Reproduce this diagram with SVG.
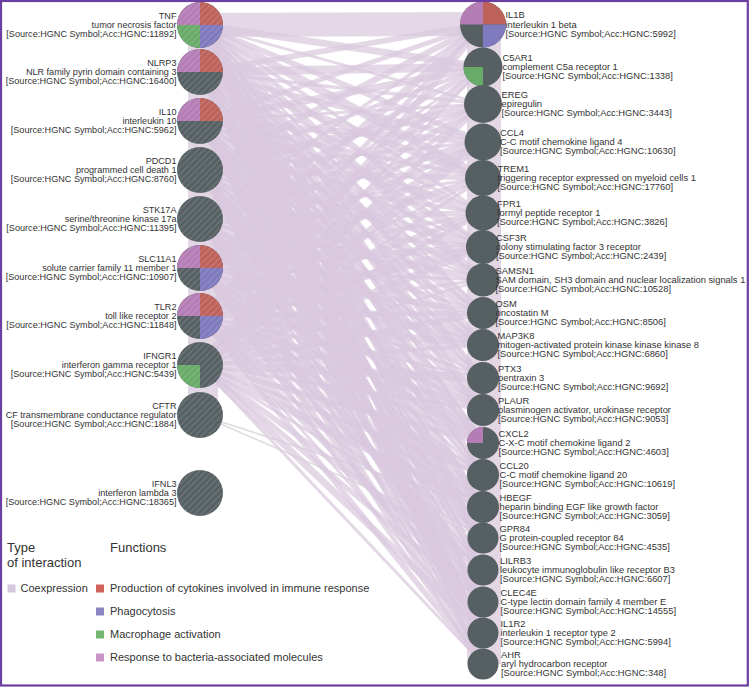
<svg xmlns="http://www.w3.org/2000/svg" width="749" height="688" viewBox="0 0 749 688">
<defs>
<pattern id="hatch" patternUnits="userSpaceOnUse" width="4.5" height="4.5" patternTransform="rotate(45)"><line x1="2.25" y1="0" x2="2.25" y2="4.5" stroke="#ffffff" stroke-opacity="0.14" stroke-width="1.3"/></pattern>
</defs>
<style>
text{font-family:"Liberation Sans",Arial,sans-serif;fill:#333333}
.l text{font-size:9.1px;text-anchor:end}
.r text{font-size:9.35px}
.e line{stroke:#d9c9de;stroke-opacity:0.72;fill:none}
.band{stroke:#d9c9de;stroke-opacity:0.75}
.faint{stroke:#dcd8dc;stroke-opacity:0.9}
.g{fill:#566063}
.pk{fill:#b47db5}
.rd{fill:#bd625b}
.bl{fill:#7f79bd}
.gr{fill:#68ab68}
.h{fill:url(#hatch)}
.leg{font-size:11px}
.hd{font-size:13px}
</style>
<rect x="0" y="0" width="749" height="688" fill="#ffffff"/>
<g id="connectors">
<line class="band" x1="203" y1="25" x2="203" y2="415" stroke-width="30"/>
<line class="band" x1="484" y1="24" x2="484" y2="664" stroke-width="34"/>
<line class="faint" x1="200" y1="415" x2="483" y2="507" stroke-width="1.6"/>
<line class="faint" x1="200" y1="415" x2="483" y2="538" stroke-width="1.6"/>
<g class="e">
<line x1="200" y1="25" x2="483" y2="24" stroke-width="24"/>
<line x1="200" y1="25" x2="483" y2="67" stroke-width="7"/>
<line x1="200" y1="25" x2="483" y2="104" stroke-width="2.8"/>
<line x1="200" y1="25" x2="483" y2="142" stroke-width="5.6"/>
<line x1="200" y1="25" x2="483" y2="178" stroke-width="8.4"/>
<line x1="200" y1="25" x2="483" y2="213" stroke-width="3.5"/>
<line x1="200" y1="25" x2="483" y2="247" stroke-width="4.9"/>
<line x1="200" y1="25" x2="483" y2="280" stroke-width="7"/>
<line x1="200" y1="25" x2="483" y2="313" stroke-width="2.8"/>
<line x1="200" y1="25" x2="483" y2="345" stroke-width="6.3"/>
<line x1="200" y1="25" x2="483" y2="378" stroke-width="4.2"/>
<line x1="200" y1="25" x2="483" y2="410" stroke-width="8.4"/>
<line x1="200" y1="25" x2="483" y2="443" stroke-width="3.5"/>
<line x1="200" y1="25" x2="483" y2="475" stroke-width="5.6"/>
<line x1="200" y1="25" x2="483" y2="507" stroke-width="4.2"/>
<line x1="200" y1="25" x2="483" y2="538" stroke-width="7.7"/>
<line x1="200" y1="25" x2="483" y2="570" stroke-width="2.8"/>
<line x1="200" y1="25" x2="483" y2="602" stroke-width="5.6"/>
<line x1="200" y1="25" x2="483" y2="633" stroke-width="4.9"/>
<line x1="200" y1="25" x2="483" y2="664" stroke-width="7"/>
<line x1="200" y1="72" x2="483" y2="24" stroke-width="5.6"/>
<line x1="200" y1="72" x2="483" y2="67" stroke-width="8.4"/>
<line x1="200" y1="72" x2="483" y2="104" stroke-width="3.5"/>
<line x1="200" y1="72" x2="483" y2="142" stroke-width="4.9"/>
<line x1="200" y1="72" x2="483" y2="178" stroke-width="7"/>
<line x1="200" y1="72" x2="483" y2="213" stroke-width="2.8"/>
<line x1="200" y1="72" x2="483" y2="247" stroke-width="6.3"/>
<line x1="200" y1="72" x2="483" y2="280" stroke-width="4.2"/>
<line x1="200" y1="72" x2="483" y2="313" stroke-width="8.4"/>
<line x1="200" y1="72" x2="483" y2="345" stroke-width="3.5"/>
<line x1="200" y1="72" x2="483" y2="378" stroke-width="5.6"/>
<line x1="200" y1="72" x2="483" y2="410" stroke-width="4.2"/>
<line x1="200" y1="72" x2="483" y2="443" stroke-width="7.7"/>
<line x1="200" y1="72" x2="483" y2="475" stroke-width="2.8"/>
<line x1="200" y1="72" x2="483" y2="507" stroke-width="5.6"/>
<line x1="200" y1="72" x2="483" y2="538" stroke-width="4.9"/>
<line x1="200" y1="72" x2="483" y2="570" stroke-width="7"/>
<line x1="200" y1="72" x2="483" y2="602" stroke-width="4.2"/>
<line x1="200" y1="72" x2="483" y2="633" stroke-width="7"/>
<line x1="200" y1="72" x2="483" y2="664" stroke-width="2.8"/>
<line x1="200" y1="121" x2="483" y2="24" stroke-width="4.9"/>
<line x1="200" y1="121" x2="483" y2="67" stroke-width="7"/>
<line x1="200" y1="121" x2="483" y2="104" stroke-width="2.8"/>
<line x1="200" y1="121" x2="483" y2="142" stroke-width="6.3"/>
<line x1="200" y1="121" x2="483" y2="178" stroke-width="4.2"/>
<line x1="200" y1="121" x2="483" y2="213" stroke-width="8.4"/>
<line x1="200" y1="121" x2="483" y2="247" stroke-width="3.5"/>
<line x1="200" y1="121" x2="483" y2="280" stroke-width="5.6"/>
<line x1="200" y1="121" x2="483" y2="313" stroke-width="4.2"/>
<line x1="200" y1="121" x2="483" y2="345" stroke-width="7.7"/>
<line x1="200" y1="121" x2="483" y2="378" stroke-width="2.8"/>
<line x1="200" y1="121" x2="483" y2="410" stroke-width="5.6"/>
<line x1="200" y1="121" x2="483" y2="443" stroke-width="4.9"/>
<line x1="200" y1="121" x2="483" y2="475" stroke-width="7"/>
<line x1="200" y1="121" x2="483" y2="507" stroke-width="4.2"/>
<line x1="200" y1="121" x2="483" y2="538" stroke-width="7"/>
<line x1="200" y1="121" x2="483" y2="570" stroke-width="2.8"/>
<line x1="200" y1="121" x2="483" y2="602" stroke-width="5.6"/>
<line x1="200" y1="121" x2="483" y2="633" stroke-width="8.4"/>
<line x1="200" y1="121" x2="483" y2="664" stroke-width="3.5"/>
<line x1="200" y1="170" x2="483" y2="24" stroke-width="6.3"/>
<line x1="200" y1="170" x2="483" y2="67" stroke-width="4.2"/>
<line x1="200" y1="170" x2="483" y2="104" stroke-width="8.4"/>
<line x1="200" y1="170" x2="483" y2="142" stroke-width="3.5"/>
<line x1="200" y1="170" x2="483" y2="178" stroke-width="5.6"/>
<line x1="200" y1="170" x2="483" y2="213" stroke-width="4.2"/>
<line x1="200" y1="170" x2="483" y2="247" stroke-width="7.7"/>
<line x1="200" y1="170" x2="483" y2="280" stroke-width="2.8"/>
<line x1="200" y1="170" x2="483" y2="313" stroke-width="5.6"/>
<line x1="200" y1="170" x2="483" y2="345" stroke-width="4.9"/>
<line x1="200" y1="170" x2="483" y2="378" stroke-width="7"/>
<line x1="200" y1="170" x2="483" y2="410" stroke-width="4.2"/>
<line x1="200" y1="170" x2="483" y2="443" stroke-width="7"/>
<line x1="200" y1="170" x2="483" y2="475" stroke-width="2.8"/>
<line x1="200" y1="170" x2="483" y2="507" stroke-width="5.6"/>
<line x1="200" y1="170" x2="483" y2="538" stroke-width="8.4"/>
<line x1="200" y1="170" x2="483" y2="570" stroke-width="3.5"/>
<line x1="200" y1="170" x2="483" y2="602" stroke-width="4.9"/>
<line x1="200" y1="170" x2="483" y2="633" stroke-width="7"/>
<line x1="200" y1="170" x2="483" y2="664" stroke-width="2.8"/>
<line x1="200" y1="219" x2="483" y2="24" stroke-width="3.5"/>
<line x1="200" y1="219" x2="483" y2="67" stroke-width="5.6"/>
<line x1="200" y1="219" x2="483" y2="104" stroke-width="4.2"/>
<line x1="200" y1="219" x2="483" y2="142" stroke-width="7.7"/>
<line x1="200" y1="219" x2="483" y2="178" stroke-width="2.8"/>
<line x1="200" y1="219" x2="483" y2="213" stroke-width="5.6"/>
<line x1="200" y1="219" x2="483" y2="247" stroke-width="4.9"/>
<line x1="200" y1="219" x2="483" y2="280" stroke-width="7"/>
<line x1="200" y1="219" x2="483" y2="313" stroke-width="4.2"/>
<line x1="200" y1="219" x2="483" y2="345" stroke-width="7"/>
<line x1="200" y1="219" x2="483" y2="378" stroke-width="2.8"/>
<line x1="200" y1="219" x2="483" y2="410" stroke-width="5.6"/>
<line x1="200" y1="219" x2="483" y2="443" stroke-width="8.4"/>
<line x1="200" y1="219" x2="483" y2="475" stroke-width="3.5"/>
<line x1="200" y1="219" x2="483" y2="507" stroke-width="4.9"/>
<line x1="200" y1="219" x2="483" y2="538" stroke-width="7"/>
<line x1="200" y1="219" x2="483" y2="570" stroke-width="2.8"/>
<line x1="200" y1="219" x2="483" y2="602" stroke-width="6.3"/>
<line x1="200" y1="219" x2="483" y2="633" stroke-width="4.2"/>
<line x1="200" y1="219" x2="483" y2="664" stroke-width="8.4"/>
<line x1="200" y1="268" x2="483" y2="24" stroke-width="7.7"/>
<line x1="200" y1="268" x2="483" y2="67" stroke-width="2.8"/>
<line x1="200" y1="268" x2="483" y2="104" stroke-width="5.6"/>
<line x1="200" y1="268" x2="483" y2="142" stroke-width="4.9"/>
<line x1="200" y1="268" x2="483" y2="178" stroke-width="7"/>
<line x1="200" y1="268" x2="483" y2="213" stroke-width="4.2"/>
<line x1="200" y1="268" x2="483" y2="247" stroke-width="7"/>
<line x1="200" y1="268" x2="483" y2="280" stroke-width="2.8"/>
<line x1="200" y1="268" x2="483" y2="313" stroke-width="5.6"/>
<line x1="200" y1="268" x2="483" y2="345" stroke-width="8.4"/>
<line x1="200" y1="268" x2="483" y2="378" stroke-width="3.5"/>
<line x1="200" y1="268" x2="483" y2="410" stroke-width="4.9"/>
<line x1="200" y1="268" x2="483" y2="443" stroke-width="7"/>
<line x1="200" y1="268" x2="483" y2="475" stroke-width="2.8"/>
<line x1="200" y1="268" x2="483" y2="507" stroke-width="6.3"/>
<line x1="200" y1="268" x2="483" y2="538" stroke-width="4.2"/>
<line x1="200" y1="268" x2="483" y2="570" stroke-width="8.4"/>
<line x1="200" y1="268" x2="483" y2="602" stroke-width="3.5"/>
<line x1="200" y1="268" x2="483" y2="633" stroke-width="5.6"/>
<line x1="200" y1="268" x2="483" y2="664" stroke-width="4.2"/>
<line x1="200" y1="316" x2="483" y2="24" stroke-width="4.9"/>
<line x1="200" y1="316" x2="483" y2="67" stroke-width="7"/>
<line x1="200" y1="316" x2="483" y2="104" stroke-width="4.2"/>
<line x1="200" y1="316" x2="483" y2="142" stroke-width="7"/>
<line x1="200" y1="316" x2="483" y2="178" stroke-width="2.8"/>
<line x1="200" y1="316" x2="483" y2="213" stroke-width="5.6"/>
<line x1="200" y1="316" x2="483" y2="247" stroke-width="8.4"/>
<line x1="200" y1="316" x2="483" y2="280" stroke-width="3.5"/>
<line x1="200" y1="316" x2="483" y2="313" stroke-width="4.9"/>
<line x1="200" y1="316" x2="483" y2="345" stroke-width="7"/>
<line x1="200" y1="316" x2="483" y2="378" stroke-width="2.8"/>
<line x1="200" y1="316" x2="483" y2="410" stroke-width="6.3"/>
<line x1="200" y1="316" x2="483" y2="443" stroke-width="4.2"/>
<line x1="200" y1="316" x2="483" y2="475" stroke-width="8.4"/>
<line x1="200" y1="316" x2="483" y2="507" stroke-width="3.5"/>
<line x1="200" y1="316" x2="483" y2="538" stroke-width="5.6"/>
<line x1="200" y1="316" x2="483" y2="570" stroke-width="4.2"/>
<line x1="200" y1="316" x2="483" y2="602" stroke-width="7.7"/>
<line x1="200" y1="316" x2="483" y2="633" stroke-width="2.8"/>
<line x1="200" y1="316" x2="483" y2="664" stroke-width="5.6"/>
<line x1="200" y1="365" x2="483" y2="24" stroke-width="7"/>
<line x1="200" y1="365" x2="483" y2="67" stroke-width="2.8"/>
<line x1="200" y1="365" x2="483" y2="104" stroke-width="5.6"/>
<line x1="200" y1="365" x2="483" y2="142" stroke-width="8.4"/>
<line x1="200" y1="365" x2="483" y2="178" stroke-width="3.5"/>
<line x1="200" y1="365" x2="483" y2="213" stroke-width="4.9"/>
<line x1="200" y1="365" x2="483" y2="247" stroke-width="7"/>
<line x1="200" y1="365" x2="483" y2="280" stroke-width="2.8"/>
<line x1="200" y1="365" x2="483" y2="313" stroke-width="6.3"/>
<line x1="200" y1="365" x2="483" y2="345" stroke-width="4.2"/>
<line x1="200" y1="365" x2="483" y2="378" stroke-width="8.4"/>
<line x1="200" y1="365" x2="483" y2="410" stroke-width="3.5"/>
<line x1="200" y1="365" x2="483" y2="443" stroke-width="5.6"/>
<line x1="200" y1="365" x2="483" y2="475" stroke-width="4.2"/>
<line x1="200" y1="365" x2="483" y2="507" stroke-width="7.7"/>
<line x1="200" y1="365" x2="483" y2="538" stroke-width="2.8"/>
<line x1="200" y1="365" x2="483" y2="570" stroke-width="5.6"/>
<line x1="200" y1="365" x2="483" y2="602" stroke-width="4.9"/>
<line x1="200" y1="365" x2="483" y2="633" stroke-width="7"/>
<line x1="200" y1="365" x2="483" y2="664" stroke-width="3"/>
</g>
</g>
<g id="TNF" class="l" transform="translate(200,25)">
<circle r="23" class="g"/>
<path class="pk" d="M0 0H-23A23 23 0 0 1 0 -23Z"/><path class="rd" d="M0 0V-23A23 23 0 0 1 23 0Z"/><path class="bl" d="M0 0H23A23 23 0 0 1 0 23Z"/><path class="gr" d="M0 0V23A23 23 0 0 1 -23 0Z"/>
<circle r="23" class="h"/>
<text x="-23.5" y="-6.3">TNF</text><text x="-23.5" y="3">tumor necrosis factor</text><text x="-23.5" y="12.3">[Source:HGNC Symbol;Acc:HGNC:11892]</text>
</g>
<g id="NLRP3" class="l" transform="translate(200,72)">
<circle r="23" class="g"/>
<path class="pk" d="M0 0H-23A23 23 0 0 1 0 -23Z"/><path class="rd" d="M0 0V-23A23 23 0 0 1 23 0Z"/>
<circle r="23" class="h"/>
<text x="-23.5" y="-6.3">NLRP3</text><text x="-23.5" y="3">NLR family pyrin domain containing 3</text><text x="-23.5" y="12.3">[Source:HGNC Symbol;Acc:HGNC:16400]</text>
</g>
<g id="IL10" class="l" transform="translate(200,121)">
<circle r="23" class="g"/>
<path class="pk" d="M0 0H-23A23 23 0 0 1 0 -23Z"/><path class="rd" d="M0 0V-23A23 23 0 0 1 23 0Z"/>
<circle r="23" class="h"/>
<text x="-23.5" y="-6.3">IL10</text><text x="-23.5" y="3">interleukin 10</text><text x="-23.5" y="12.3">[Source:HGNC Symbol;Acc:HGNC:5962]</text>
</g>
<g id="PDCD1" class="l" transform="translate(200,170)">
<circle r="23" class="g"/>
<circle r="23" class="h"/>
<text x="-23.5" y="-6.3">PDCD1</text><text x="-23.5" y="3">programmed cell death 1</text><text x="-23.5" y="12.3">[Source:HGNC Symbol;Acc:HGNC:8760]</text>
</g>
<g id="STK17A" class="l" transform="translate(200,219)">
<circle r="23" class="g"/>
<circle r="23" class="h"/>
<text x="-23.5" y="-6.3">STK17A</text><text x="-23.5" y="3">serine/threonine kinase 17a</text><text x="-23.5" y="12.3">[Source:HGNC Symbol;Acc:HGNC:11395]</text>
</g>
<g id="SLC11A1" class="l" transform="translate(200,268)">
<circle r="23" class="g"/>
<path class="pk" d="M0 0H-23A23 23 0 0 1 0 -23Z"/><path class="rd" d="M0 0V-23A23 23 0 0 1 23 0Z"/><path class="bl" d="M0 0H23A23 23 0 0 1 0 23Z"/>
<circle r="23" class="h"/>
<text x="-23.5" y="-6.3">SLC11A1</text><text x="-23.5" y="3">solute carrier family 11 member 1</text><text x="-23.5" y="12.3">[Source:HGNC Symbol;Acc:HGNC:10907]</text>
</g>
<g id="TLR2" class="l" transform="translate(200,316)">
<circle r="23" class="g"/>
<path class="pk" d="M0 0H-23A23 23 0 0 1 0 -23Z"/><path class="rd" d="M0 0V-23A23 23 0 0 1 23 0Z"/><path class="bl" d="M0 0H23A23 23 0 0 1 0 23Z"/>
<circle r="23" class="h"/>
<text x="-23.5" y="-6.3">TLR2</text><text x="-23.5" y="3">toll like receptor 2</text><text x="-23.5" y="12.3">[Source:HGNC Symbol;Acc:HGNC:11848]</text>
</g>
<g id="IFNGR1" class="l" transform="translate(200,365)">
<circle r="23" class="g"/>
<path class="gr" d="M0 0V23A23 23 0 0 1 -23 0Z"/>
<circle r="23" class="h"/>
<text x="-23.5" y="-6.3">IFNGR1</text><text x="-23.5" y="3">interferon gamma receptor 1</text><text x="-23.5" y="12.3">[Source:HGNC Symbol;Acc:HGNC:5439]</text>
</g>
<g id="CFTR" class="l" transform="translate(200,415)">
<circle r="23" class="g"/>
<circle r="23" class="h"/>
<text x="-23.5" y="-6.3">CFTR</text><text x="-23.5" y="3">CF transmembrane conductance regulator</text><text x="-23.5" y="12.3">[Source:HGNC Symbol;Acc:HGNC:1884]</text>
</g>
<g id="IFNL3" class="l" transform="translate(200,493)">
<circle r="23" class="g"/>
<circle r="23" class="h"/>
<text x="-23.5" y="-6.3">IFNL3</text><text x="-23.5" y="3">interferon lambda 3</text><text x="-23.5" y="12.3">[Source:HGNC Symbol;Acc:HGNC:18365]</text>
</g>
<g id="IL1B" class="r" transform="translate(483,24.5)">
<circle r="23" class="g"/>
<path class="pk" d="M0 0H-23A23 23 0 0 1 0 -23Z"/><path class="rd" d="M0 0V-23A23 23 0 0 1 23 0Z"/><path class="bl" d="M0 0H23A23 23 0 0 1 0 23Z"/>
<text x="22.5" y="-6.3">IL1B</text><text x="22.5" y="3">interleukin 1 beta</text><text x="22.5" y="12.3">[Source:HGNC Symbol;Acc:HGNC:5992]</text>
</g>
<g id="C5AR1" class="r" transform="translate(483,67)">
<circle r="19.5" class="g"/>
<path class="gr" d="M0 0V19.5A19.5 19.5 0 0 1 -19.5 0Z"/>
<text x="19.5" y="-6.3">C5AR1</text><text x="19.5" y="3">complement C5a receptor 1</text><text x="19.5" y="12.3">[Source:HGNC Symbol;Acc:HGNC:1338]</text>
</g>
<g id="EREG" class="r" transform="translate(483,104)">
<circle r="19" class="g"/>
<text x="18.5" y="-6.3">EREG</text><text x="18.5" y="3">epiregulin</text><text x="18.5" y="12.3">[Source:HGNC Symbol;Acc:HGNC:3443]</text>
</g>
<g id="CCL4" class="r" transform="translate(483,142)">
<circle r="18.5" class="g"/>
<text x="17" y="-6.3">CCL4</text><text x="17" y="3">C-C motif chemokine ligand 4</text><text x="17" y="12.3">[Source:HGNC Symbol;Acc:HGNC:10630]</text>
</g>
<g id="TREM1" class="r" transform="translate(483,178)">
<circle r="18" class="g"/>
<text x="14.5" y="-6.3">TREM1</text><text x="14.5" y="3">triggering receptor expressed on myeloid cells 1</text><text x="14.5" y="12.3">[Source:HGNC Symbol;Acc:HGNC:17760]</text>
</g>
<g id="FPR1" class="r" transform="translate(483,213)">
<circle r="17.5" class="g"/>
<text x="14" y="-6.3">FPR1</text><text x="14" y="3">formyl peptide receptor 1</text><text x="14" y="12.3">[Source:HGNC Symbol;Acc:HGNC:3826]</text>
</g>
<g id="CSF3R" class="r" transform="translate(483,247)">
<circle r="17" class="g"/>
<text x="13" y="-6.3">CSF3R</text><text x="13" y="3">colony stimulating factor 3 receptor</text><text x="13" y="12.3">[Source:HGNC Symbol;Acc:HGNC:2439]</text>
</g>
<g id="SAMSN1" class="r" transform="translate(483,280)">
<circle r="16.5" class="g"/>
<text x="12.5" y="-6.3">SAMSN1</text><text x="12.5" y="3">SAM domain, SH3 domain and nuclear localization signals 1</text><text x="12.5" y="12.3">[Source:HGNC Symbol;Acc:HGNC:10528]</text>
</g>
<g id="OSM" class="r" transform="translate(483,313)">
<circle r="16" class="g"/>
<text x="12.5" y="-6.3">OSM</text><text x="12.5" y="3">oncostatin M</text><text x="12.5" y="12.3">[Source:HGNC Symbol;Acc:HGNC:8506]</text>
</g>
<g id="MAP3K8" class="r" transform="translate(483,345)">
<circle r="16" class="g"/>
<text x="14.5" y="-6.3">MAP3K8</text><text x="14.5" y="3">mitogen-activated protein kinase kinase kinase 8</text><text x="14.5" y="12.3">[Source:HGNC Symbol;Acc:HGNC:6860]</text>
</g>
<g id="PTX3" class="r" transform="translate(483,378)">
<circle r="16" class="g"/>
<text x="15" y="-6.3">PTX3</text><text x="15" y="3">pentraxin 3</text><text x="15" y="12.3">[Source:HGNC Symbol;Acc:HGNC:9692]</text>
</g>
<g id="PLAUR" class="r" transform="translate(483,410)">
<circle r="16" class="g"/>
<text x="15" y="-6.3">PLAUR</text><text x="15" y="3">plasminogen activator, urokinase receptor</text><text x="15" y="12.3">[Source:HGNC Symbol;Acc:HGNC:9053]</text>
</g>
<g id="CXCL2" class="r" transform="translate(483,443)">
<circle r="16" class="g"/>
<path class="pk" d="M0 0H-16A16 16 0 0 1 0 -16Z"/>
<text x="15.5" y="-6.3">CXCL2</text><text x="15.5" y="3">C-X-C motif chemokine ligand 2</text><text x="15.5" y="12.3">[Source:HGNC Symbol;Acc:HGNC:4603]</text>
</g>
<g id="CCL20" class="r" transform="translate(483,475)">
<circle r="16" class="g"/>
<text x="16.5" y="-6.3">CCL20</text><text x="16.5" y="3">C-C motif chemokine ligand 20</text><text x="16.5" y="12.3">[Source:HGNC Symbol;Acc:HGNC:10619]</text>
</g>
<g id="HBEGF" class="r" transform="translate(483,507)">
<circle r="16" class="g"/>
<text x="16.5" y="-6.3">HBEGF</text><text x="16.5" y="3">heparin binding EGF like growth factor</text><text x="16.5" y="12.3">[Source:HGNC Symbol;Acc:HGNC:3059]</text>
</g>
<g id="GPR84" class="r" transform="translate(483,538)">
<circle r="15.5" class="g"/>
<text x="16.5" y="-6.3">GPR84</text><text x="16.5" y="3">G protein-coupled receptor 84</text><text x="16.5" y="12.3">[Source:HGNC Symbol;Acc:HGNC:4535]</text>
</g>
<g id="LILRB3" class="r" transform="translate(483,570)">
<circle r="15.5" class="g"/>
<text x="17" y="-6.3">LILRB3</text><text x="17" y="3">leukocyte immunoglobulin like receptor B3</text><text x="17" y="12.3">[Source:HGNC Symbol;Acc:HGNC:6607]</text>
</g>
<g id="CLEC4E" class="r" transform="translate(483,602)">
<circle r="15.5" class="g"/>
<text x="17.5" y="-6.3">CLEC4E</text><text x="17.5" y="3">C-type lectin domain family 4 member E</text><text x="17.5" y="12.3">[Source:HGNC Symbol;Acc:HGNC:14555]</text>
</g>
<g id="IL1R2" class="r" transform="translate(483,633)">
<circle r="15.5" class="g"/>
<text x="17.5" y="-6.3">IL1R2</text><text x="17.5" y="3">interleukin 1 receptor type 2</text><text x="17.5" y="12.3">[Source:HGNC Symbol;Acc:HGNC:5994]</text>
</g>
<g id="AHR" class="r" transform="translate(483,664)">
<circle r="15.5" class="g"/>
<text x="18" y="-6.3">AHR</text><text x="18" y="3">aryl hydrocarbon receptor</text><text x="18" y="12.3">[Source:HGNC Symbol;Acc:HGNC:348]</text>
</g>
<g id="legend">
<text class="hd" x="7" y="552">Type</text>
<text class="hd" x="7" y="567">of interaction</text>
<text class="hd" x="110" y="552">Functions</text>
<rect x="7.5" y="584.5" width="8" height="8" fill="#d6c8dc"/>
<text class="leg" x="20.5" y="592">Coexpression</text>
<rect x="96" y="584.5" width="8" height="8" fill="#d0615b"/>
<text class="leg" x="110" y="592">Production of cytokines involved in immune response</text>
<rect x="96" y="607.5" width="8" height="8" fill="#8984c4"/>
<text class="leg" x="110" y="615">Phagocytosis</text>
<rect x="96" y="630.5" width="8" height="8" fill="#74b571"/>
<text class="leg" x="110" y="638">Macrophage activation</text>
<rect x="96" y="653.5" width="8" height="8" fill="#c995c8"/>
<text class="leg" x="110" y="661">Response to bacteria-associated molecules</text>
</g>
<rect x="1" y="1" width="746.8" height="684.5" fill="none" stroke="#6b3fa0" stroke-width="2.2"/>
</svg>
